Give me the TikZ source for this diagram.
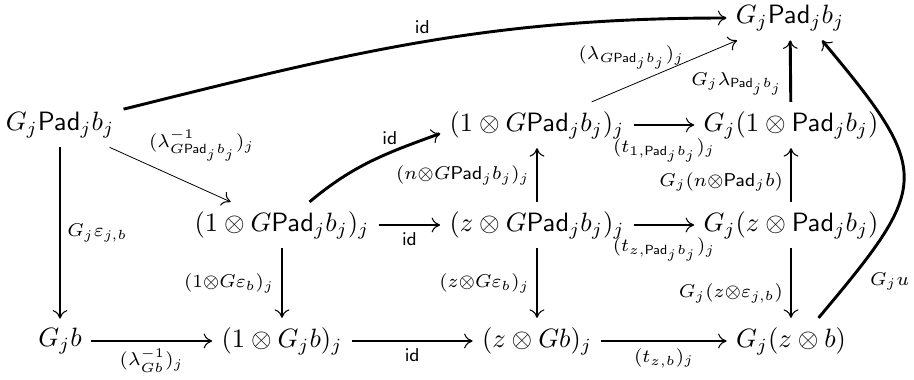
\documentclass[tikz,border=0pt]{standalone}
\usepackage{amsmath}
\usepackage{tikz}
\usetikzlibrary{arrows.meta}

\begin{document}
\begin{tikzpicture}[x=3.77pt,y=3.77pt,>={To[length=3.2pt,width=5.6pt,line width=0.4pt]},
  lbl/.style={font=\scriptsize,inner sep=2.5pt},
  thinar/.style={->,line width=0.3pt},
  normar/.style={->,line width=0.55pt},
  thickar/.style={->,line width=1.1pt}]
\useasboundingbox (0,0) rectangle (91.4,37.9);
\foreach \n/\x/\y/\t in {gp/6.0/25.4/{G_j\mathsf{Pad}_jb_j}, gpt/79.0/36.1/{G_j\mathsf{Pad}_jb_j},
    gb/6.0/3.8/{G_jb}, ogp/28.2/15.4/{(1\otimes G\mathsf{Pad}_jb_j)_j}, ogb/28.2/3.8/{(1\otimes G_jb)_j},
    ogpu/53.7/25.4/{(1\otimes G\mathsf{Pad}_jb_j)_j}, zgp/53.7/15.4/{(z\otimes G\mathsf{Pad}_jb_j)_j},
    zgb/53.7/3.8/{(z\otimes Gb)_j}, gop/79.1/25.4/{G_j(1\otimes\mathsf{Pad}_jb_j)},
    gzp/79.1/15.4/{G_j(z\otimes\mathsf{Pad}_jb_j)}, gzb/79.1/3.8/{G_j(z\otimes b)}}
  \node (\n) at (\x,\y) {$\t$};
\draw[thickar] (gp) to[out=14,in=180] node[lbl,above] {$\mathsf{id}$} (gpt);
\draw[thinar] (gp) -- node[lbl,pos=0.3,anchor=south west,inner sep=1pt] {$(\lambda^{-1}_{G\mathsf{Pad}_jb_j})_j$} (ogp);
\draw[normar] (gp) -- node[lbl,right] {$G_j\varepsilon_{j,b}$} (gb);
\draw[normar] (gb) -- node[lbl,below] {$(\lambda^{-1}_{Gb})_j$} (ogb);
\draw[thickar] (ogp) -- node[lbl,left] {$(1{\otimes}G\varepsilon_b)_j$} (ogb);
\draw[normar] (ogp) -- node[lbl,below] {$\mathsf{id}$} (zgp);
\draw[thickar] (ogp) to[out=40,in=200] node[lbl,pos=0.65,above] {$\mathsf{id}$} (ogpu.185);
\draw[normar] (zgp) -- node[lbl,left] {$(n{\otimes}G\mathsf{Pad}_jb_j)_j$} (ogpu);
\draw[normar] (zgp) -- node[lbl,left] {$(z{\otimes}G\varepsilon_b)_j$} (zgb);
\draw[normar] (zgp) -- node[lbl,below=2pt] {$(t_{z,\mathsf{Pad}_jb_j})_j$} (gzp);
\draw[thickar] (ogpu) -- node[lbl,below=2pt] {$(t_{1,\mathsf{Pad}_jb_j})_j$} (gop);
\draw[thinar] (ogpu) -- node[lbl,pos=0.72,anchor=east,xshift=-2pt] {$(\lambda_{G\mathsf{Pad}_jb_j})_j$} (gpt);
\draw[thickar] (gop) -- node[lbl,pos=0.3,left] {$G_j\lambda_{\mathsf{Pad}_jb_j}$} (gpt);
\draw[thickar] (gzp) -- node[lbl,pos=0.37,left] {$G_j(n{\otimes}\mathsf{Pad}_jb)$} (gop);
\draw[thickar] (gzp) -- node[lbl,pos=0.65,left] {$G_j(z{\otimes}\varepsilon_{j,b})$} (gzb);
\draw[normar] (ogb) -- node[lbl,below] {$\mathsf{id}$} (zgb);
\draw[normar] (zgb) -- node[lbl,below] {$(t_{z,b})_j$} (gzb);
\draw[thickar] (gzb.40) to[out=50,in=-50,looseness=1.6] node[lbl,pos=0.1,right=5pt] {$G_ju$} (gpt.-35);
\end{tikzpicture}
\end{document}
